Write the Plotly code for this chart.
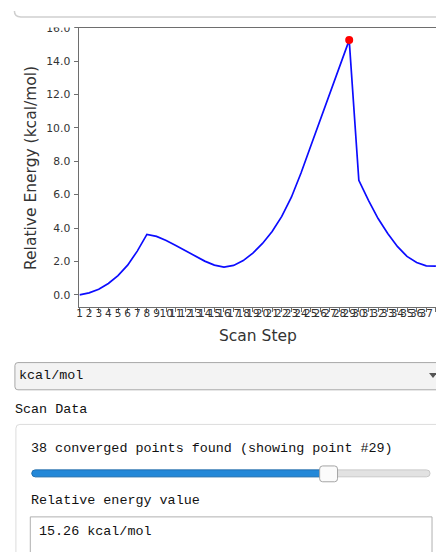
import plotly.graph_objects as go

# ---- scan data -------------------------------------------------------------
steps = list(range(1, 39))
energy_kcal = [
    0.00, 0.12, 0.33, 0.68, 1.15, 1.78, 2.62, 3.62, 3.50, 3.26,
    2.96, 2.64, 2.32, 2.02, 1.78, 1.66, 1.76, 2.05, 2.50, 3.08,
    3.80, 4.70, 5.85, 7.30, 8.90, 10.50, 12.08, 13.66, 15.26, 6.86,
    5.66, 4.57, 3.68, 2.90, 2.30, 1.94, 1.74, 1.72,
]
selected_step = 29
unit_label = "kcal/mol"
y_ticks = [0.0, 2.0, 4.0, 6.0, 8.0, 10.0, 12.0, 14.0, 16.0]

# ---- page geometry helpers (pixels -> paper) --------------------------------
W, H = 436, 552


def X(px):
    return px / W


def Y(py):
    return 1 - py / H


def rounded_rect(x0, y0, x1, y1, r):
    pts = [
        ("M", (x0 + r, y0)), ("L", (x1 - r, y0)), ("Q", (x1, y0), (x1, y0 + r)),
        ("L", (x1, y1 - r)), ("Q", (x1, y1), (x1 - r, y1)),
        ("L", (x0 + r, y1)), ("Q", (x0, y1), (x0, y1 - r)),
        ("L", (x0, y0 + r)), ("Q", (x0, y0), (x0 + r, y0)),
    ]
    out = []
    for item in pts:
        cmd, coords = item[0], item[1:]
        out.append(cmd + " " + " ".join(f"{X(a):.5f},{Y(b):.5f}" for a, b in coords))
    return " ".join(out) + " Z"


def path(points, close=False):
    s = "M " + " L ".join(f"{X(a):.5f},{Y(b):.5f}" for a, b in points)
    return s + (" Z" if close else "")


sel = steps.index(selected_step)
sel_energy = energy_kcal[sel]

PLOT_L, PLOT_R, PLOT_T, PLOT_B = 77, 436, 22, 304
STEP_PX = 9.7

fig = go.Figure()
fig.add_trace(go.Scatter(
    x=steps, y=energy_kcal, mode="lines",
    line=dict(color="#0c0cff", width=1.7), hoverinfo="skip", showlegend=False,
))
fig.add_trace(go.Scatter(
    x=[steps[sel]], y=[sel_energy], mode="markers",
    marker=dict(color="#ff0000", size=8), hoverinfo="skip", showlegend=False,
))

axis_common = dict(
    showgrid=False, zeroline=False, showline=True, linecolor="#6e6e6e",
    linewidth=1, ticks="outside", ticklen=4, tickcolor="#6e6e6e", tickwidth=1,
)

fig.update_layout(
    width=W, height=H,
    margin=dict(l=0, r=0, t=0, b=0),
    paper_bgcolor="white", plot_bgcolor="white",
    xaxis=dict(
        domain=[X(PLOT_L), 1.0],
        range=[1, 1 + (PLOT_R - PLOT_L) / STEP_PX],
        tickvals=steps, ticktext=[str(s) for s in steps],
        tickangle=0, ticklabelstandoff=-7,
        tickfont=dict(family="DejaVu Sans", size=10.5, color="#333333"),
        mirror=True, **axis_common,
    ),
    yaxis=dict(
        domain=[Y(PLOT_B), Y(PLOT_T)],
        range=[-0.71, 16.0],
        tickvals=y_ticks, ticktext=[f"{v:.1f}" for v in y_ticks],
        ticklabelstandoff=2,
        tickfont=dict(family="DejaVu Sans", size=10.8, color="#333333"),
        **axis_common,
    ),
)

shapes = []
# strip above the axes box (hides the upper half of the top tick label)
shapes.append(dict(type="rect", xref="paper", yref="paper", layer="above",
                   x0=X(0), x1=X(72), y0=Y(21.7), y1=Y(0),
                   fillcolor="white", line=dict(width=0)))
# container edge above the chart
shapes.append(dict(type="path", xref="paper", yref="paper", layer="above",
                   path=f"M {X(11.5):.5f},{Y(5):.5f} Q {X(11.5):.5f},{Y(11):.5f} {X(18):.5f},{Y(11):.5f} L {X(440):.5f},{Y(11):.5f}",
                   line=dict(color="#cfcfcf", width=1.5)))
# unit dropdown
shapes.append(dict(type="path", xref="paper", yref="paper", layer="above",
                   path=rounded_rect(12, 360.5, 444, 388, 3),
                   fillcolor="#f3f3f3", line=dict(color="#a8a8a8", width=1)))
shapes.append(dict(type="path", xref="paper", yref="paper", layer="above",
                   path=path([(429, 371), (437, 371), (433, 376)], close=True),
                   fillcolor="#555555", line=dict(width=0)))
# scan data panel
shapes.append(dict(type="path", xref="paper", yref="paper", layer="above",
                   path=rounded_rect(13, 423, 450, 570, 4),
                   fillcolor="white", line=dict(color="#dcdcdc", width=1)))
# slider track, filled part and handle
TRACK_L, TRACK_R, HANDLE_W = 29, 430, 18
shapes.append(dict(type="path", xref="paper", yref="paper", layer="above",
                   path=rounded_rect(TRACK_L, 469, TRACK_R, 476, 3.5),
                   fillcolor="#e2e2e2", line=dict(color="#c9c9c9", width=1)))
handle_cx = TRACK_L + HANDLE_W / 2 + (sel / (len(steps) - 1)) * (TRACK_R - TRACK_L - HANDLE_W)
shapes.append(dict(type="path", xref="paper", yref="paper", layer="above",
                   path=rounded_rect(TRACK_L, 469, handle_cx, 476, 3.5),
                   fillcolor="#2388d8", line=dict(color="#1c72b8", width=1)))
shapes.append(dict(type="path", xref="paper", yref="paper", layer="above",
                   path=rounded_rect(handle_cx - HANDLE_W / 2, 465, handle_cx + HANDLE_W / 2, 481, 3),
                   fillcolor="#fbfbfb", line=dict(color="#a5a5a5", width=1)))
# value text box
shapes.append(dict(type="rect", xref="paper", yref="paper", layer="above",
                   x0=X(27.5), x1=X(432), y0=Y(570), y1=Y(516.5),
                   fillcolor="white", line=dict(color="#b0b0b0", width=1)))
fig.update_layout(shapes=shapes)

ui_font = dict(family="Liberation Mono", size=13.4, color="#111111")
annotations = [
    dict(text="Scan Step", x=X(257), y=Y(334), xanchor="center", yanchor="middle",
         font=dict(family="DejaVu Sans", size=15.5, color="#333333")),
    dict(text=f"Relative Energy ({unit_label})", x=X(28), y=Y(164), textangle=-90,
         xanchor="center", yanchor="middle",
         font=dict(family="DejaVu Sans", size=15.5, color="#333333")),
    dict(text=unit_label, x=X(14), y=Y(374), xanchor="left", yanchor="middle", font=ui_font),
    dict(text="Scan Data", x=X(10), y=Y(408), xanchor="left", yanchor="middle", font=ui_font),
    dict(text=f"{len(steps)} converged points found (showing point #{selected_step})",
         x=X(26), y=Y(447), xanchor="left", yanchor="middle", font=ui_font),
    dict(text="Relative energy value", x=X(26), y=Y(500), xanchor="left", yanchor="middle", font=ui_font),
    dict(text=f"{sel_energy:.2f} {unit_label}", x=X(34), y=Y(531), xanchor="left",
         yanchor="middle", font=ui_font),
]
for a in annotations:
    a.update(xref="paper", yref="paper", showarrow=False)
fig.update_layout(annotations=annotations)

fig.write_html("out.html", post_script="document.body.style.margin='0';")
